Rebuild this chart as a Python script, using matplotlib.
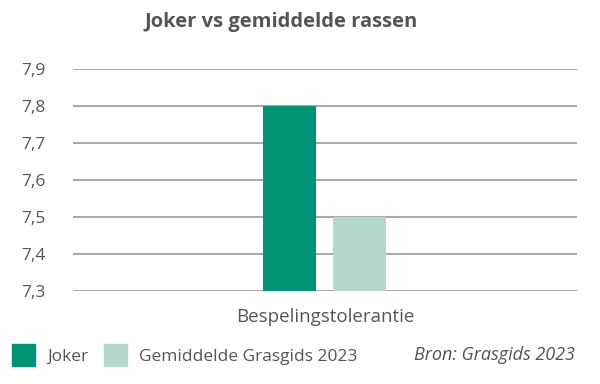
import matplotlib.pyplot as plt
from matplotlib.patches import Patch

# data
categorie = ["Bespelingstolerantie"]
reeksen = ["Joker", "Gemiddelde Grasgids 2023"]
waarden = [7.8, 7.5]
kleuren = ["#009474", "#b5d8cd"]
yticks = [7.3, 7.4, 7.5, 7.6, 7.7, 7.8, 7.9]

plt.rcParams['font.family'] = ['Open Sans', 'DejaVu Sans']
tekst = "#555555"

fig = plt.figure(figsize=(6, 3.84), dpi=100)
ax = fig.add_axes([0.1217, 0.2422, 0.84, 0.5781])

breedte = 0.105
offsets = [-0.07, 0.068]
for i in range(len(reeksen)):
    ax.bar(0 + offsets[i], waarden[i] - 7.3, bottom=7.3, width=breedte,
           color=kleuren[i], zorder=3)

ax.set_xlim(-0.5, 0.5)
ax.set_ylim(7.3, 7.9)
ax.set_yticks(yticks)
ax.set_yticklabels([f"{v:.1f}".replace(".", ",") for v in yticks],
                   fontsize=12.5, color=tekst)
ax.set_xticks([0])
ax.set_xticklabels(categorie, fontsize=13.5, color=tekst)
ax.tick_params(length=0)
ax.tick_params(axis='y', pad=20)
ax.tick_params(axis='x', pad=12)
ax.grid(axis='y', color="#9a9a9a", linewidth=1.2, zorder=0)
for s in ax.spines.values():
    s.set_visible(False)

fig.text(0.469, 0.943, "Joker vs gemiddelde rassen", ha='center', va='center',
         fontsize=14.5, fontweight='bold', color=tekst)

handles = [Patch(color=kleuren[i], label=reeksen[i]) for i in range(len(reeksen))]
fig.legend(handles=handles, loc='center left', bbox_to_anchor=(0.0, 0.075),
           ncol=2, frameon=False, fontsize=12.5, labelcolor=tekst,
           handlelength=1.3, handleheight=1.6, handletextpad=0.7,
           columnspacing=0.95, borderaxespad=0.3, borderpad=0.4)

fig.text(0.958, 0.075, "Bron: Grasgids 2023", ha='right', va='center',
         fontsize=13, style='italic', color=tekst)

fig.savefig("out.png", dpi=100)
